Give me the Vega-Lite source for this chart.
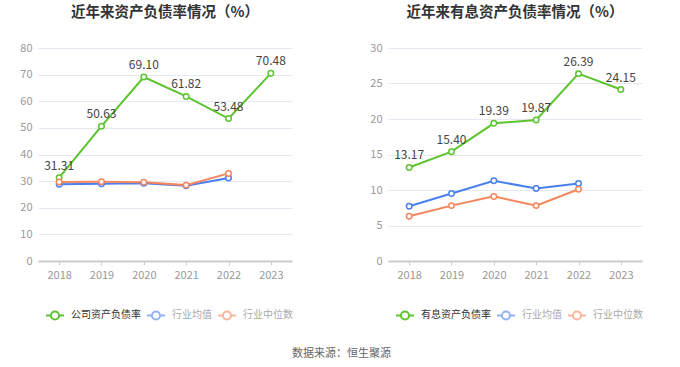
{
  "$schema": "https://vega.github.io/schema/vega-lite/v6.json",
  "background": "white",
  "padding": {"left": 19, "top": 4, "right": 10, "bottom": 5},
  "config": {
    "font": "Noto Sans CJK SC",
    "view": {"stroke": null},
    "axis": {"labelFont": "Noto Sans CJK SC", "labelFontSize": 11, "labelColor": "#999999", "title": null},
    "title": {"font": "Noto Sans CJK SC", "fontSize": 14.5, "fontWeight": "bold", "color": "#333333"}
  },
  "datasets": {
    "left": [
      {"year": "2018", "series": "公司资产负债率", "value": 31.31},
      {"year": "2019", "series": "公司资产负债率", "value": 50.63},
      {"year": "2020", "series": "公司资产负债率", "value": 69.10},
      {"year": "2021", "series": "公司资产负债率", "value": 61.82},
      {"year": "2022", "series": "公司资产负债率", "value": 53.48},
      {"year": "2023", "series": "公司资产负债率", "value": 70.48},
      {"year": "2018", "series": "行业均值", "value": 28.8},
      {"year": "2019", "series": "行业均值", "value": 29.0},
      {"year": "2020", "series": "行业均值", "value": 29.2},
      {"year": "2021", "series": "行业均值", "value": 28.3},
      {"year": "2022", "series": "行业均值", "value": 31.2},
      {"year": "2018", "series": "行业中位数", "value": 29.7},
      {"year": "2019", "series": "行业中位数", "value": 29.8},
      {"year": "2020", "series": "行业中位数", "value": 29.6},
      {"year": "2021", "series": "行业中位数", "value": 28.5},
      {"year": "2022", "series": "行业中位数", "value": 32.9}
    ],
    "right": [
      {"year": "2018", "series": "有息资产负债率", "value": 13.17},
      {"year": "2019", "series": "有息资产负债率", "value": 15.40},
      {"year": "2020", "series": "有息资产负债率", "value": 19.39},
      {"year": "2021", "series": "有息资产负债率", "value": 19.87},
      {"year": "2022", "series": "有息资产负债率", "value": 26.39},
      {"year": "2023", "series": "有息资产负债率", "value": 24.15},
      {"year": "2018", "series": "行业均值", "value": 7.7},
      {"year": "2019", "series": "行业均值", "value": 9.5},
      {"year": "2020", "series": "行业均值", "value": 11.3},
      {"year": "2021", "series": "行业均值", "value": 10.2},
      {"year": "2022", "series": "行业均值", "value": 10.9},
      {"year": "2018", "series": "行业中位数", "value": 6.3},
      {"year": "2019", "series": "行业中位数", "value": 7.8},
      {"year": "2020", "series": "行业中位数", "value": 9.1},
      {"year": "2021", "series": "行业中位数", "value": 7.8},
      {"year": "2022", "series": "行业中位数", "value": 10.1}
    ]
  },
  "title": {"text": "数据来源：恒生聚源", "orient": "bottom", "anchor": "middle", "fontSize": 11, "fontWeight": "normal", "color": "#666666", "offset": 24, "dx": 10},
  "hconcat": [
    {
      "width": 254,
      "height": 213,
      "data": {"name": "left"},
      "title": {"text": "近年来资产负债率情况（%）", "offset": 22},
      "encoding": {
        "x": {"field": "year", "type": "ordinal", "scale": {"type": "point", "padding": 0.5},
          "axis": {"labelAngle": 0, "domainColor": "#cccccc", "domainWidth": 2, "tickColor": "#cccccc", "tickSize": 4, "labelPadding": 4, "grid": false}},
        "y": {"field": "value", "type": "quantitative", "scale": {"domain": [0, 80], "nice": false},
          "axis": {"values": [0, 10, 20, 30, 40, 50, 60, 70, 80], "domain": false, "ticks": false, "labelPadding": 6, "gridColor": "#e6e9f2", "gridWidth": 1}}
      },
      "layer": [
        {
          "mark": {"type": "line", "strokeWidth": 2},
          "encoding": {
            "color": {"field": "series", "type": "nominal",
              "scale": {"domain": ["公司资产负债率", "行业均值", "行业中位数"], "range": ["#5cc42f", "#4a7ff0", "#f5865c"]},
              "legend": {"orient": "none", "legendX": 7, "legendY": 257, "direction": "horizontal", "title": null, "padding": 0,
                "symbolType": "M -1 0 L -0.45 0 M 0.45 0 L 1 0 M 0.45 0 C 0.45 0.2485 0.2485 0.45 0 0.45 C -0.2485 0.45 -0.45 0.2485 -0.45 0 C -0.45 -0.2485 -0.2485 -0.45 0 -0.45 C 0.2485 -0.45 0.45 -0.2485 0.45 0 Z",
                "symbolSize": 324, "symbolStrokeWidth": 2, "labelFontSize": 10, "labelOffset": 6, "columnPadding": 2, "labelColor": "#333333",
                "encode": {
                  "labels": {"update": {"fill": {"signal": "datum.index === 0 ? '#333333' : '#aaaaaa'"}}},
                  "symbols": {"update": {"opacity": {"signal": "datum.index === 0 ? 1 : 0.6"}}}
                }}
            }
          }
        },
        {
          "mark": {"type": "point", "shape": "circle", "filled": true, "fill": "white", "strokeWidth": 1.5, "size": 30, "opacity": 1},
          "encoding": {"stroke": {"field": "series", "type": "nominal", "scale": {"domain": ["公司资产负债率", "行业均值", "行业中位数"], "range": ["#5cc42f", "#4a7ff0", "#f5865c"]}, "legend": null}}
        },
        {
          "transform": [{"filter": "datum.series === '公司资产负债率'"}],
          "mark": {"type": "text", "dy": -12, "baseline": "middle", "fontSize": 12, "color": "#444444"},
          "encoding": {"text": {"field": "value", "type": "quantitative", "format": ".2f"}}
        }
      ]
    },
    {
      "width": 254,
      "height": 213,
      "data": {"name": "right"},
      "title": {"text": "近年来有息资产负债率情况（%）", "offset": 22},
      "encoding": {
        "x": {"field": "year", "type": "ordinal", "scale": {"type": "point", "padding": 0.5},
          "axis": {"labelAngle": 0, "domainColor": "#cccccc", "domainWidth": 2, "tickColor": "#cccccc", "tickSize": 4, "labelPadding": 4, "grid": false}},
        "y": {"field": "value", "type": "quantitative", "scale": {"domain": [0, 30], "nice": false},
          "axis": {"values": [0, 5, 10, 15, 20, 25, 30], "domain": false, "ticks": false, "labelPadding": 6, "gridColor": "#e6e9f2", "gridWidth": 1}}
      },
      "layer": [
        {
          "mark": {"type": "line", "strokeWidth": 2},
          "encoding": {
            "color": {"field": "series", "type": "nominal",
              "scale": {"domain": ["有息资产负债率", "行业均值", "行业中位数"], "range": ["#5cc42f", "#4a7ff0", "#f5865c"]},
              "legend": {"orient": "none", "legendX": 7, "legendY": 257, "direction": "horizontal", "title": null, "padding": 0,
                "symbolType": "M -1 0 L -0.45 0 M 0.45 0 L 1 0 M 0.45 0 C 0.45 0.2485 0.2485 0.45 0 0.45 C -0.2485 0.45 -0.45 0.2485 -0.45 0 C -0.45 -0.2485 -0.2485 -0.45 0 -0.45 C 0.2485 -0.45 0.45 -0.2485 0.45 0 Z",
                "symbolSize": 324, "symbolStrokeWidth": 2, "labelFontSize": 10, "labelOffset": 6, "columnPadding": 2, "labelColor": "#333333",
                "encode": {
                  "labels": {"update": {"fill": {"signal": "datum.index === 0 ? '#333333' : '#aaaaaa'"}}},
                  "symbols": {"update": {"opacity": {"signal": "datum.index === 0 ? 1 : 0.6"}}}
                }}
            }
          }
        },
        {
          "mark": {"type": "point", "shape": "circle", "filled": true, "fill": "white", "strokeWidth": 1.5, "size": 30, "opacity": 1},
          "encoding": {"stroke": {"field": "series", "type": "nominal", "scale": {"domain": ["有息资产负债率", "行业均值", "行业中位数"], "range": ["#5cc42f", "#4a7ff0", "#f5865c"]}, "legend": null}}
        },
        {
          "transform": [{"filter": "datum.series === '有息资产负债率'"}],
          "mark": {"type": "text", "dy": -12, "baseline": "middle", "fontSize": 12, "color": "#444444"},
          "encoding": {"text": {"field": "value", "type": "quantitative", "format": ".2f"}}
        }
      ]
    }
  ],
  "spacing": 96,
  "bounds": "flush",
  "resolve": {"scale": {"color": "independent", "stroke": "independent", "y": "independent"}, "legend": {"color": "independent", "stroke": "independent"}}
}
